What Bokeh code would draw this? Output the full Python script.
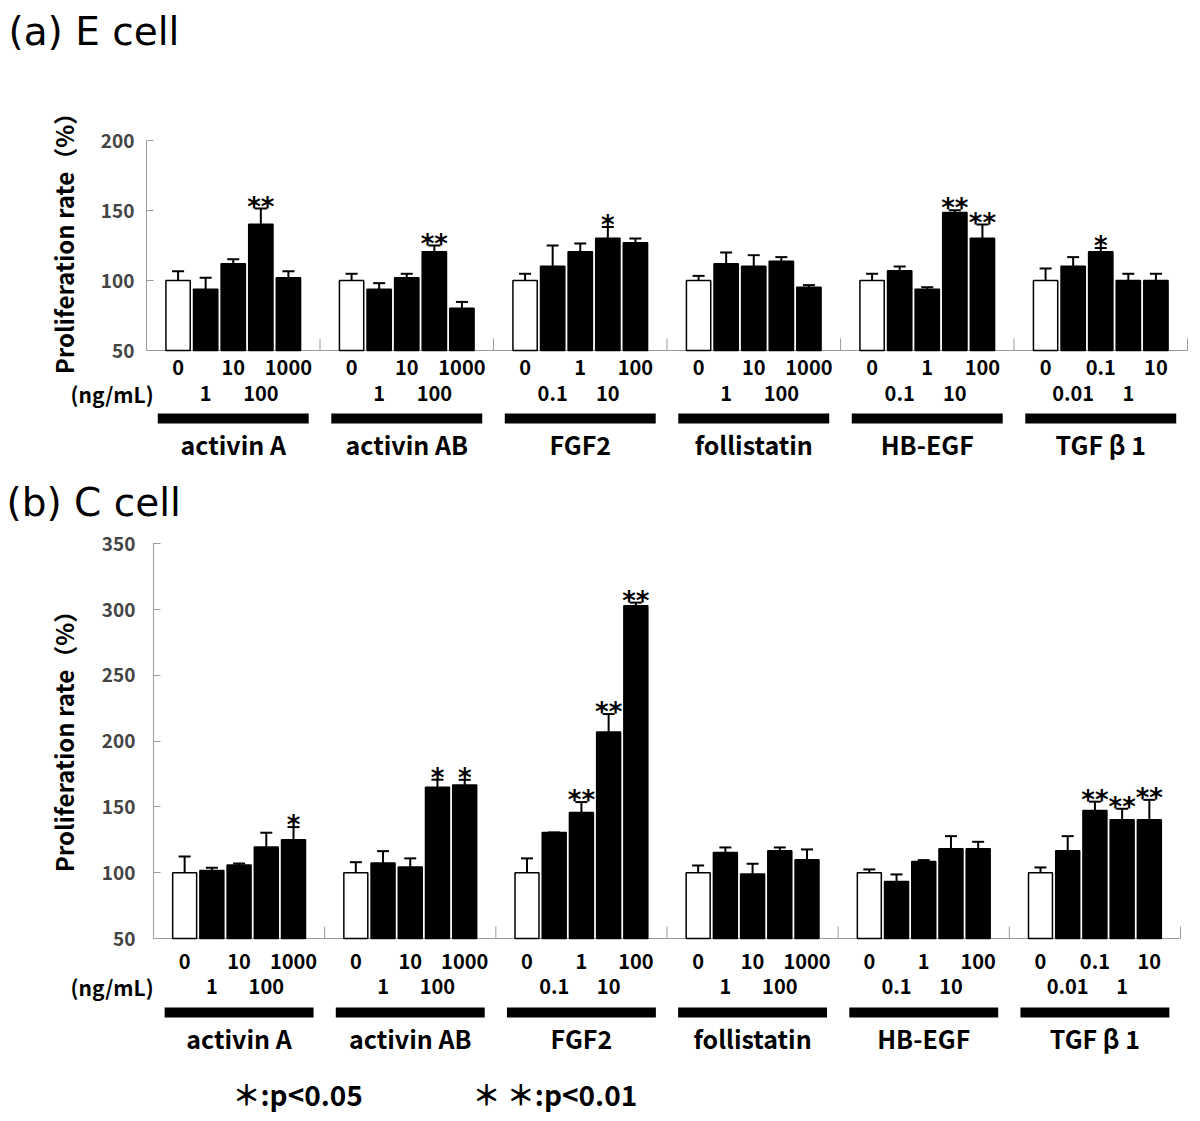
from bokeh.plotting import figure
from bokeh.models import ColumnDataSource, Range1d, FixedTicker, Whisker, TeeHead
from bokeh.layouts import column
from bokeh.embed import file_html
from bokeh.resources import INLINE
from bokeh.core.properties import value
import math

# ---------------- data ----------------
FACTORS = ["activin A", "activin AB", "FGF2", "follistatin", "HB-EGF", "TGF β 1"]
DOSES = [
    ["0", "1", "10", "100", "1000"],
    ["0", "1", "10", "100", "1000"],
    ["0", "0.1", "1", "10", "100"],
    ["0", "1", "10", "100", "1000"],
    ["0", "0.1", "1", "10", "100"],
    ["0", "0.01", "0.1", "1", "10"],
]

# (a) E cell : mean proliferation rate (%) and upper error
E_MEAN = [
    [100, 93.8, 111.9, 140.2, 101.9],
    [100, 93.8, 101.9, 120.5, 80.2],
    [100, 110.2, 120.5, 130.2, 126.9],
    [100, 111.9, 110.2, 113.8, 95.2],
    [100, 106.9, 93.8, 148.6, 130.2],
    [100, 110.2, 120.5, 100.0, 100.0],
]
E_ERR = [
    [6.6, 8.1, 3.3, 11.2, 4.7],
    [4.8, 4.3, 2.9, 4.5, 4.5],
    [4.8, 14.8, 5.9, 8.1, 3.1],
    [3.3, 8.1, 7.9, 2.9, 1.5],
    [4.8, 3.1, 1.4, 1.6, 9.8],
    [8.6, 6.5, 2.8, 4.8, 4.8],
]
E_SIG = [
    ["", "", "", "**", ""],
    ["", "", "", "**", ""],
    ["", "", "", "*", ""],
    ["", "", "", "", ""],
    ["", "", "", "**", "**"],
    ["", "", "*", "", ""],
]

# (b) C cell
C_MEAN = [
    [100, 101.7, 105.8, 119.5, 125.0],
    [100, 107.3, 104.3, 165.0, 166.6],
    [100, 130.6, 145.8, 206.9, 303.0],
    [100, 115.4, 99.0, 116.7, 109.9],
    [100, 93.4, 108.6, 118.2, 118.2],
    [100, 116.7, 147.3, 140.3, 140.3],
]
C_ERR = [
    [12.4, 2.1, 1.2, 10.9, 9.7],
    [8.0, 9.1, 6.6, 5.7, 4.0],
    [10.9, 0.0, 7.9, 13.7, 2.3],
    [5.5, 3.8, 7.8, 2.5, 7.8],
    [2.5, 5.3, 1.0, 9.6, 5.3],
    [4.0, 11.1, 6.7, 8.3, 15.1],
]
C_SIG = [
    ["", "", "", "", "*"],
    ["", "", "", "*", "*"],
    ["", "", "**", "**", "**"],
    ["", "", "", "", ""],
    ["", "", "", "", ""],
    ["", "", "**", "**", "**"],
]

E_TICKS = [50, 100, 150, 200]
C_TICKS = [50, 100, 150, 200, 250, 300, 350]
LEGEND = ["＊:p<0.05", "＊ ＊:p<0.01"]

# ---------------- style / layout (page pixels) ----------------
JP = "Noto Sans CJK JP"
GRAY = "#9c9c9c"
PITCH = 0.159
BAR_W = 0.14
W = 1200
PAGE_L, PAGE_R = 0, 1200


def build(title, mean, err, sig, ticks, cfg):
    top, H = cfg["top"], cfg["H"]
    ax_x, right = cfg["ax_x"], cfg["right"]
    unit = (right - ax_x) / 6.0
    ymax = ticks[-1]
    y_hi_px, y_lo_px = cfg["at"], cfg["ab"]        # page y of ymax and of 50
    ppu = (y_lo_px - y_hi_px) / (ymax - 50.0)

    def dx(px):
        return (px - ax_x) / unit

    def dy(py):
        return 50 + (y_lo_px - py) / ppu

    p = figure(width=W, height=H,
               x_range=Range1d(dx(PAGE_L), dx(PAGE_R)),
               y_range=Range1d(dy(top + H), dy(top)),
               output_backend="svg", toolbar_location=None,
               min_border_left=0, min_border_right=0, min_border_top=0, min_border_bottom=0)
    p.xaxis.visible = False
    p.grid.visible = False
    p.outline_line_color = None
    p.background_fill_color = "white"
    p.border_fill_color = "white"

    ax = p.yaxis[0]
    ax.fixed_location = 0
    ax.bounds = (50, ymax)
    ax.ticker = FixedTicker(ticks=ticks)
    ax.axis_line_color = GRAY
    ax.major_tick_line_color = GRAY
    ax.major_tick_in = 7
    ax.major_tick_out = 0
    ax.minor_tick_line_color = None
    ax.major_label_text_font = JP
    ax.major_label_text_font_style = "bold"
    ax.major_label_text_font_size = "19px"
    ax.major_label_standoff = cfg["standoff"]

    base = y_lo_px
    r1, r2, rb, rn = cfg["rows"]
    xs, tops, ups, fills, sigs, doses, dys = [], [], [], [], [], [], []
    for g in range(6):
        for i in range(5):
            xs.append(g + 0.5 + (i - 2) * PITCH)
            tops.append(mean[g][i])
            ups.append(mean[g][i] + err[g][i])
            fills.append("white" if i == 0 else "black")
            sigs.append(sig[g][i])
            doses.append(DOSES[g][i])
            dys.append(dy(base + (r1 if i % 2 == 0 else r2)))
    src = ColumnDataSource(dict(x=xs, top=tops, up=ups, fill=fills, sig=sigs, dose=doses, dy=dys))

    # x baseline and group separators
    p.segment(x0=[0], y0=[50], x1=[6], y1=[50], line_color=GRAY, line_width=1)
    seps = [1, 2, 3, 4, 5, 6]
    p.segment(x0=seps, y0=[50] * 6, x1=seps, y1=[50 + 12 / ppu] * 6, line_color=GRAY, line_width=1)

    p.vbar(x="x", top="top", bottom=50, width=BAR_W, fill_color="fill", line_color="black",
           line_width=1.5, source=src)
    p.add_layout(Whisker(base="x", lower="top", upper="up", source=src, line_width=2, line_color="black",
                         upper_head=TeeHead(size=12, line_width=2, line_color="black"), lower_head=None))
    p.text(x="x", y="up", text="sig", source=src, text_align="center", text_baseline="alphabetic",
           y_offset=-2, text_font=value("DejaVu Sans"), text_font_style="bold", text_font_size="26px",
           text_color="black")

    p.text(x="x", y="dy", text="dose", source=src, text_align="center", text_baseline="middle",
           text_font=value(JP), text_font_style="bold", text_font_size="20px", text_color="black")

    gx = [g + 0.5 for g in range(6)]
    p.rect(x=gx, y=[dy(base + rb)] * 6, width=0.87, height=10 / ppu, fill_color="black", line_color=None)
    p.text(x=gx, y=[dy(base + rn)] * 6, text=FACTORS, text_align="center", text_baseline="middle",
           text_font=value(JP), text_font_style="bold", text_font_size="25px", text_color="black")

    # title, axis title, unit
    p.text(x=[dx(cfg["title_x"])], y=[dy(cfg["title_y"])], text=[title], text_align="left",
           text_baseline="middle", text_font=value("DejaVu Sans"), text_font_size="39px",
           text_color="black")
    p.text(x=[dx(63)], y=[dy(cfg["lab_y"])], text=["Proliferation rate（%）"], angle=math.pi / 2,
           text_align="center", text_baseline="middle", text_font=value(JP), text_font_style="bold",
           text_font_size="24px", text_color="black")
    p.text(x=[dx(70)], y=[dy(base + r2)], text=["(ng/mL)"], text_align="left", text_baseline="middle",
           text_font=value(JP), text_font_style="bold", text_font_size="21px", text_color="black")

    if cfg.get("legend"):
        lx = [dx(232), dx(472)]
        p.text(x=lx, y=[dy(base + cfg["legend"])] * 2, text=LEGEND, text_align="left",
               text_baseline="middle", text_font=value(JP), text_font_style="bold",
               text_font_size="28px", text_color="black")
    return p


cfg_a = dict(top=0, H=470, ax_x=146, right=1187, at=140, ab=350, standoff=12,
             rows=(17, 43, 68, 93), title_x=8, title_y=31, lab_y=237)
cfg_b = dict(top=470, H=643, ax_x=153, right=1180, at=543.3, ab=938, standoff=18,
             rows=(23, 48, 74, 99), title_x=6, title_y=502, lab_y=735, legend=155)

pa = build("(a) E cell", E_MEAN, E_ERR, E_SIG, E_TICKS, cfg_a)
pb = build("(b) C cell", C_MEAN, C_ERR, C_SIG, C_TICKS, cfg_b)

layout = column(pa, pb, spacing=0)
open("out.html", "w").write(file_html(layout, INLINE))
